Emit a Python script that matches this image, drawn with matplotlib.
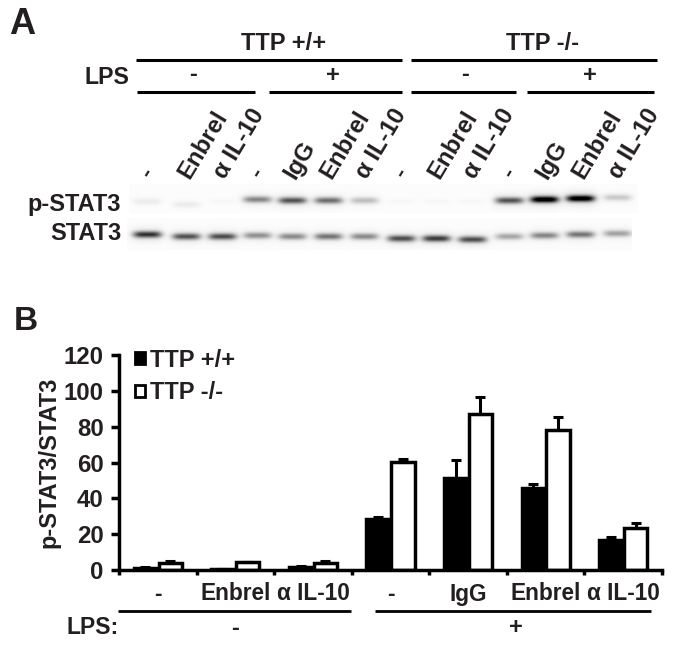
import matplotlib
matplotlib.use('Agg')
import matplotlib.pyplot as plt
import numpy as np
from matplotlib.patches import Patch

W, H = 674, 647
INK = '#231f20'

# panel B
groups = ['-', 'Enbrel', 'α IL-10', '-', 'IgG', 'Enbrel', 'α IL-10']
wt_vals = [1.2, 0.5, 1.8, 28.5, 51.5, 45.7, 17.0]
wt_errs = [0.3, 0.2, 0.3, 1.0, 10.0, 2.5, 1.2]
ko_vals = [4.0, 4.5, 4.0, 60.5, 87.0, 78.0, 23.3]
ko_errs = [1.0, 0.2, 1.0, 1.5, 9.7, 7.5, 3.0]

# panel A, lanes left to right
lane_labels = ['-', 'Enbrel', 'α IL-10', '-', 'IgG', 'Enbrel', 'α IL-10',
               '-', 'Enbrel', 'α IL-10', '-', 'IgG', 'Enbrel', 'α IL-10']
lane_x = [147, 186, 222, 257, 292, 328, 364, 401, 436, 472, 509, 544, 580, 617]
pstat3 = [0.06, 0.06, 0.02, 0.42, 0.60, 0.50, 0.22, 0.02, 0.02, 0.02, 0.60, 1.00, 1.00, 0.18]
pstat3_y = [201, 204, 201, 199, 200, 200, 200, 201, 201, 201, 200, 199, 198, 197]
stat3 = [0.72, 0.60, 0.62, 0.38, 0.40, 0.48, 0.40, 0.62, 0.68, 0.62, 0.30, 0.42, 0.48, 0.32]
stat3_y = [234, 236, 236, 235, 236, 236, 236, 238, 238, 239, 236, 235, 234, 233]


def blot(centres, levels, rows, x0, x1, y0, y1):
    xx, yy = np.meshgrid(np.arange(x0, x1), np.arange(y0, y1))
    img = np.full(xx.shape, 0.012)
    for cx, lev, cy in zip(centres, levels, rows):
        band = np.exp(-((xx - cx) / 14.0) ** 4) * np.exp(-((yy - cy) / 3.2) ** 2)
        halo = np.exp(-((xx - cx) / 17.0) ** 4) * np.exp(-((yy - cy) / 7.5) ** 2)
        img += lev * band + 0.12 * lev * halo
    return np.clip(img, 0, 1)


def hline(ax, x0, x1, y, lw=2.2):
    ax.plot([x0, x1], [y, y], color='black', lw=lw, solid_capstyle='butt')


def main():
    plt.rcParams['font.family'] = ['Liberation Sans', 'DejaVu Sans']
    plt.rcParams['font.weight'] = 'bold'
    plt.rcParams['axes.labelweight'] = 'bold'
    fig = plt.figure(figsize=(W / 100, H / 100), dpi=100)

    # whole-figure layer in pixel coordinates, for the annotation of both panels
    over = fig.add_axes([0, 0, 1, 1])
    over.set_xlim(0, W)
    over.set_ylim(H, 0)
    over.axis('off')

    over.imshow(blot(lane_x, pstat3, pstat3_y, 129, 638, 184, 213), cmap='gray_r', vmin=0, vmax=1,
                extent=(129, 638, 213, 184), aspect='auto', interpolation='bilinear')
    over.imshow(blot(lane_x, stat3, stat3_y, 127, 632, 218, 250), cmap='gray_r', vmin=0, vmax=1,
                extent=(127, 632, 250, 218), aspect='auto', interpolation='bilinear')
    over.set_xlim(0, W)
    over.set_ylim(H, 0)

    over.text(9, 25, 'A', fontsize=26, color=INK, va='center', ha='left')
    over.text(14, 321, 'B', fontsize=24, color=INK, va='center', ha='left')
    over.text(284, 43, 'TTP +/+', fontsize=17, color=INK, ha='center', va='center')
    over.text(543, 43, 'TTP -/-', fontsize=17, color=INK, ha='center', va='center')
    over.text(129, 77, 'LPS', fontsize=16.7, color=INK, ha='right', va='center')
    for x, s in [(193, '-'), (333, '+'), (465, '-'), (590, '+')]:
        over.text(x, 75, s, fontsize=17, color=INK, ha='center', va='center')
    hline(over, 136, 402, 60)
    hline(over, 411, 657, 60)
    for x0, x1 in [(137, 255), (269, 402), (411, 516), (527, 654)]:
        hline(over, x0, x1, 92)

    for x, s in zip(lane_x, lane_labels):
        over.text(x + 3, 180, s, fontsize=17.3, color=INK, rotation=59, rotation_mode='anchor',
                  ha='left', va='baseline')

    over.text(121, 204, 'p-STAT3', fontsize=17, color=INK, ha='right', va='center')
    over.text(122, 234, 'STAT3', fontsize=17, color=INK, ha='right', va='center')

    over.text(119, 628, 'LPS:', fontsize=16.5, color=INK, ha='right', va='center')
    over.text(235, 628, '-', fontsize=17, color=INK, ha='center', va='center')
    over.text(516, 628, '+', fontsize=17, color=INK, ha='center', va='center')
    hline(over, 118, 351, 611, lw=2)
    hline(over, 375, 651, 611, lw=2)

    # panel B chart
    ax = fig.add_axes([119 / W, 1 - 570 / H, (662 - 119) / W, 215 / H])
    ax.patch.set_alpha(0)
    x = np.arange(len(groups))
    width = 0.3
    err_kw = dict(ecolor='black', elinewidth=2.2, capsize=3.5, capthick=2.2)
    ax.bar(x + 0.34, wt_vals, width, yerr=[np.zeros(7), wt_errs], color='black', edgecolor='black',
           linewidth=2.5, error_kw=err_kw, label='TTP +/+')
    ax.bar(x + 0.66, ko_vals, width, yerr=[np.zeros(7), ko_errs], color='white', edgecolor='black',
           linewidth=2.5, error_kw=err_kw, label='TTP -/-')
    ax.set_xlim(0, 7)
    ax.set_ylim(0, 120)
    ax.set_yticks(np.arange(0, 121, 20))
    ax.set_xticks(np.arange(0, 8))
    ax.set_xticklabels([])
    ax.set_xticks(x + 0.5, minor=True)
    ax.set_xticklabels(groups, minor=True, fontsize=16.3, color=INK)
    ax.tick_params(axis='x', which='minor', length=0, pad=9)
    ax.tick_params(axis='x', which='major', length=3.5, width=2.5)
    ax.tick_params(axis='y', labelsize=17.3, labelcolor=INK, length=6, width=2.5, pad=5)
    for side in ['top', 'right']:
        ax.spines[side].set_visible(False)
    for side in ['left', 'bottom']:
        ax.spines[side].set_linewidth(2.5)
    ax.set_ylabel('p-STAT3/STAT3', fontsize=17, color=INK, labelpad=2)

    handles = [Patch(facecolor='black', edgecolor='black', linewidth=2, label='TTP +/+'),
               Patch(facecolor='white', edgecolor='black', linewidth=2, label='TTP -/-')]
    ax.legend(handles=handles, loc='upper left', bbox_to_anchor=(0.029, 1.03), frameon=False,
              fontsize=17, handlelength=0.42, handleheight=0.42, handletextpad=0.22, labelspacing=0.42,
              borderpad=0, borderaxespad=0, labelcolor=INK)

    fig.savefig('out.png', dpi=100)


if __name__ == '__main__':
    main()
